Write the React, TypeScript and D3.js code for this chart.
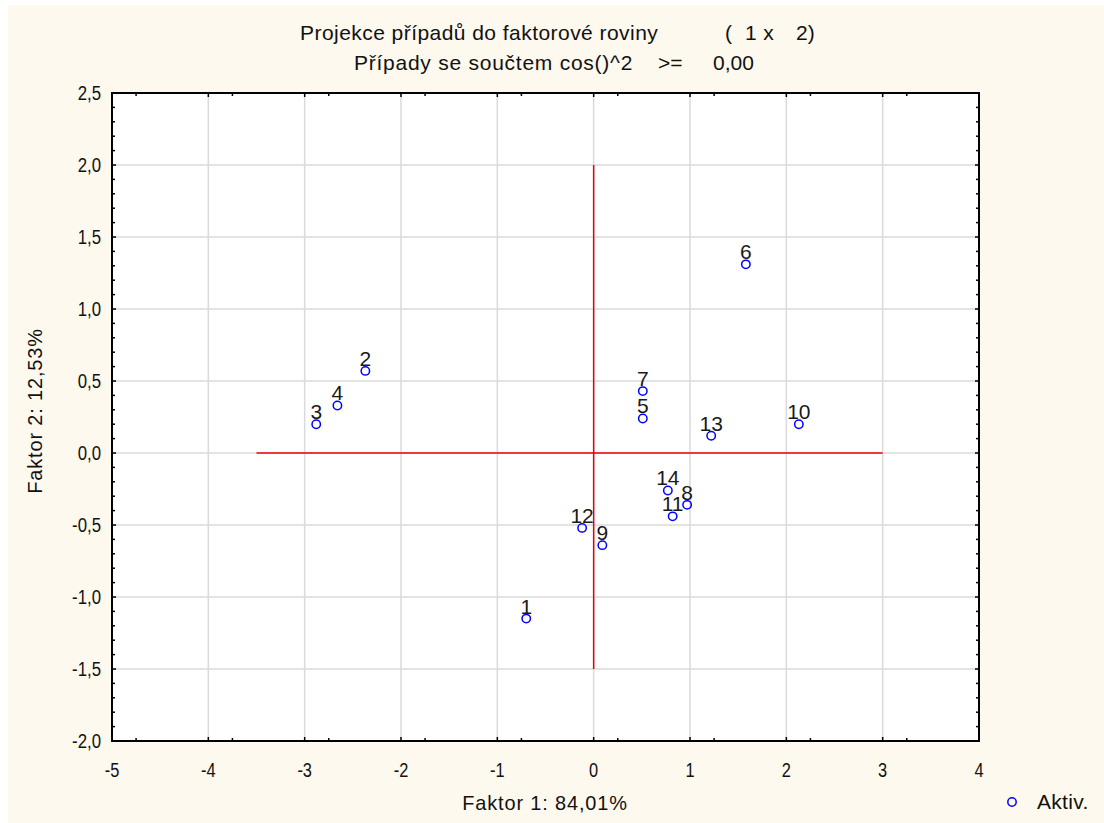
import React, { useRef, useEffect } from "react";
import * as d3 from "d3";

// case numbers and their factor scores
const caseIds = ["1", "2", "3", "4", "5", "6", "7", "8", "9", "10", "11", "12", "13", "14"];
const factor1 = [-0.70, -2.37, -2.88, -2.66, 0.51, 1.58, 0.51, 0.97, 0.09, 2.13, 0.82, -0.12, 1.22, 0.77];
const factor2 = [-1.15, 0.57, 0.20, 0.33, 0.24, 1.31, 0.43, -0.36, -0.64, 0.20, -0.44, -0.52, 0.12, -0.26];

const xTicks = [-5, -4, -3, -2, -1, 0, 1, 2, 3, 4];
const yTicks = [-2.0, -1.5, -1.0, -0.5, 0.0, 0.5, 1.0, 1.5, 2.0, 2.5];

const W = 1104;
const H = 823;
const MARGIN = { TOP: 93, LEFT: 112, RIGHT: 1104 - 979, BOTTOM: 823 - 741 };
const FONT = "'Liberation Sans', Arial, sans-serif";
const INK = "#111";

type Sel = d3.Selection<SVGGElement, unknown, null, undefined>;

// text helper, sx squeezes the glyphs horizontally
const label = (g: Sel, x: number, y: number, str: string, size: number, anchor = "start", sx = 1, ls = 0) =>
  g.append("text")
    .attr("transform", `translate(${x},${y}) scale(${sx},1)`)
    .attr("text-anchor", anchor)
    .attr("font-family", FONT)
    .attr("font-size", size)
    .attr("letter-spacing", ls)
    .attr("fill", INK)
    .text(str);

const App = () => {
  const ref = useRef<SVGSVGElement | null>(null);

  useEffect(() => {
    draw(ref.current!);
  }, []);

  return (
    <svg
      ref={ref}
      width={W}
      height={H}
      style={{ position: "absolute", left: 0, top: 0, display: "block" }}
    />
  );
};

const draw = (el: SVGSVGElement) => {
  const svg = d3.select(el);
  svg.selectAll("*").remove();

  svg.append("rect").attr("width", W).attr("height", H).attr("fill", "#ffffff");
  svg.append("rect").attr("x", 8).attr("y", 5).attr("width", W - 8).attr("height", H - 5).attr("fill", "#fef9ee");

  const x = d3.scaleLinear().domain([-5, 4]).range([MARGIN.LEFT, W - MARGIN.RIGHT]);
  const y = d3.scaleLinear().domain([-2, 2.5]).range([H - MARGIN.BOTTOM, MARGIN.TOP]);

  const [x0, x1] = x.range();
  const [y0, y1] = y.range(); // y0 bottom, y1 top

  svg.append("rect")
    .attr("x", x0).attr("y", y1)
    .attr("width", x1 - x0).attr("height", y0 - y1)
    .attr("fill", "#ffffff");

  // grid
  const grid = svg.append("g").attr("stroke", "#dadada").attr("stroke-width", 1.5);
  xTicks.slice(1, -1).forEach(t => {
    grid.append("line").attr("x1", x(t)).attr("x2", x(t)).attr("y1", y1).attr("y2", y0);
  });
  yTicks.slice(1, -1).forEach(t => {
    grid.append("line").attr("x1", x0).attr("x2", x1).attr("y1", y(t)).attr("y2", y(t));
  });

  // red cross
  svg.append("line")
    .attr("x1", x(-3.5)).attr("x2", x(3)).attr("y1", y(0)).attr("y2", y(0))
    .attr("stroke", "#ee0000").attr("stroke-width", 1.5);
  svg.append("line")
    .attr("x1", x(0)).attr("x2", x(0)).attr("y1", y(2)).attr("y2", y(-1.5))
    .attr("stroke", "#ee0000").attr("stroke-width", 1.5);

  // ticks, pointing inward on all four sides
  const ticks = svg.append("g").attr("stroke", "#000").attr("stroke-width", 1.5);
  const xMinor = xTicks.slice(0, -1).map(t => t + 0.25);
  xTicks.forEach(t => {
    ticks.append("line").attr("x1", x(t)).attr("x2", x(t)).attr("y1", y0).attr("y2", y0 - 4);
    ticks.append("line").attr("x1", x(t)).attr("x2", x(t)).attr("y1", y1).attr("y2", y1 + 4);
  });
  xMinor.forEach(t => {
    ticks.append("line").attr("x1", x(t)).attr("x2", x(t)).attr("y1", y0).attr("y2", y0 - 3);
    ticks.append("line").attr("x1", x(t)).attr("x2", x(t)).attr("y1", y1).attr("y2", y1 + 3);
  });
  const yMinor = d3.range(-20, 26).map(i => i / 10);
  yMinor.forEach(t => {
    const major = Math.abs(t * 2 - Math.round(t * 2)) < 1e-6;
    const len = major ? 4 : 3;
    ticks.append("line").attr("x1", x0).attr("x2", x0 + len).attr("y1", y(t)).attr("y2", y(t));
    ticks.append("line").attr("x1", x1).attr("x2", x1 - len).attr("y1", y(t)).attr("y2", y(t));
  });

  // frame
  svg.append("rect")
    .attr("x", x0).attr("y", y1)
    .attr("width", x1 - x0).attr("height", y0 - y1)
    .attr("fill", "none").attr("stroke", "#000").attr("stroke-width", 2);

  const fmt = (v: number) => v.toFixed(1).replace(".", ",");

  // tick labels
  const tl = svg.append("g");
  xTicks.forEach(t => label(tl, x(t), y0 + 36, String(t), 21, "middle", 0.78));
  yTicks.forEach(t => label(tl, x0 - 11, y(t) + 7, fmt(t), 21, "end", 0.8));

  // axis titles
  const at = svg.append("g");
  label(at, 545, 810, "Faktor 1: 84,01%", 21, "middle", 0.95, 0.9);
  at.append("text")
    .attr("transform", `translate(42, 411) rotate(-90) scale(0.95,1)`)
    .attr("text-anchor", "middle")
    .attr("font-family", FONT).attr("font-size", 21).attr("letter-spacing", 0.9).attr("fill", INK)
    .text("Faktor 2: 12,53%");

  // title
  const title = svg.append("g");
  label(title, 300, 40, "Projekce případů do faktorové roviny", 21, "start", 1, 0.45);
  label(title, 725, 40, "(", 21);
  label(title, 745, 40, "1 x", 21, "start", 1, 0.4);
  label(title, 796, 40, "2)", 21);
  label(title, 354, 70, "Případy se součtem cos()^2", 21, "start", 1, 0.75);
  label(title, 658, 70, ">=", 21);
  label(title, 713, 70, "0,00", 21);

  // points
  const data = caseIds.map((id, i) => ({ id, f1: factor1[i], f2: factor2[i] }));

  svg.append("g")
    .selectAll("text")
    .data(data)
    .join("text")
    .attr("x", d => x(d.f1))
    .attr("y", d => y(d.f2) - 5)
    .attr("text-anchor", "middle")
    .attr("font-family", FONT)
    .attr("font-size", 21)
    .attr("fill", "#1a1a1a")
    .text(d => d.id);

  svg.append("g")
    .selectAll("circle")
    .data(data)
    .join("circle")
    .attr("cx", d => x(d.f1))
    .attr("cy", d => y(d.f2))
    .attr("r", 4.2)
    .attr("fill", "none")
    .attr("stroke", "#0000ff")
    .attr("stroke-width", 1.5);

  // legend
  const lg = svg.append("g");
  lg.append("circle")
    .attr("cx", 1012).attr("cy", 802).attr("r", 4.2)
    .attr("fill", "none").attr("stroke", "#0000ff").attr("stroke-width", 1.5);
  label(lg, 1037, 809, "Aktiv.", 21, "start", 1, 0.3);
};

export default App;
